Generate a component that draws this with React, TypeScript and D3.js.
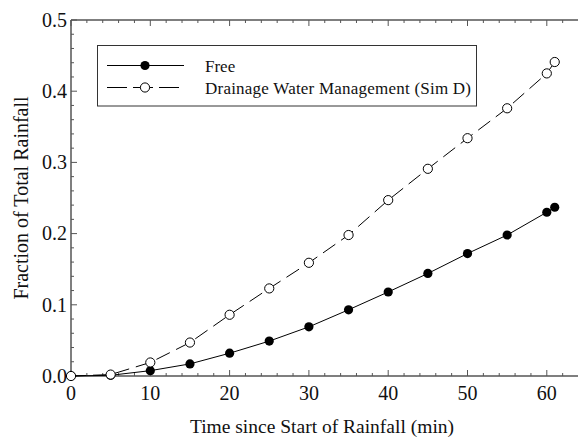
import React from "react";
import * as d3 from "d3";

// Elapsed time since rainfall began (min)
const times = [0, 5, 10, 15, 20, 25, 30, 35, 40, 45, 50, 55, 60, 61];
// Fraction of total rainfall, free drainage
const freeValues = [0, 0.001, 0.0075, 0.017, 0.032, 0.049, 0.069, 0.093, 0.118, 0.144, 0.172, 0.198, 0.23, 0.237];
// Fraction of total rainfall, drainage water management (Sim D)
const dwmValues = [0, 0.002, 0.019, 0.047, 0.086, 0.123, 0.159, 0.198, 0.247, 0.291, 0.334, 0.376, 0.425, 0.441];

const xMajorTicks = [0, 10, 20, 30, 40, 50, 60];
const yMajorTicks = [0, 0.1, 0.2, 0.3, 0.4, 0.5];
const seriesNames = ["Free", "Drainage Water Management (Sim D)"];

const W = 578;
const H = 437;
const FONT = "Liberation Serif, Times New Roman, serif";
const AXIS = "#555";
const txt = { fontFamily: FONT };

export default function App() {
  const x = d3.scaleLinear().domain([0, 65]).range([71, 71 + 65 * 7.93]);
  const y = d3.scaleLinear().domain([0, 0.5]).range([376, 20]);

  const xMinor = d3.range(0, 66, 2).filter((v) => v % 10 !== 0);
  const yMinor = d3.range(0, 0.5001, 0.02).filter((v) => Math.abs(v * 10 - Math.round(v * 10)) > 1e-6);

  const line = d3
    .line<number>()
    .x((_, i) => x(times[i]))
    .y((v) => y(v));

  const x0 = x(0);
  const xEnd = W;
  const yTop = y(0.5);
  const yBot = y(0);

  return (
    <svg
      width={W}
      height={H}
      style={{ position: "absolute", left: 0, top: 0, background: "#fff" }}
    >
      {/* axis frame: left, bottom and top */}
      <g stroke={AXIS} strokeWidth={1.5} fill="none">
        <line x1={x0} x2={x0} y1={yTop} y2={yBot} />
        <line x1={x0} x2={xEnd} y1={yBot} y2={yBot} />
        <line x1={x0} x2={xEnd} y1={yTop} y2={yTop} />
      </g>
      {/* ticks, pointing into the plot */}
      <g stroke={AXIS} strokeWidth={1}>
        {xMajorTicks.map((t) => (
          <g key={"xm" + t}>
            <line x1={x(t)} x2={x(t)} y1={yBot} y2={yBot - 6} />
            <line x1={x(t)} x2={x(t)} y1={yTop} y2={yTop + 6} />
          </g>
        ))}
        {xMinor.map((t) => (
          <g key={"xn" + t}>
            <line x1={x(t)} x2={x(t)} y1={yBot} y2={yBot - 3} />
            <line x1={x(t)} x2={x(t)} y1={yTop} y2={yTop + 3} />
          </g>
        ))}
        {yMajorTicks.map((t) => (
          <line key={"ym" + t} x1={x0} x2={x0 + 6} y1={y(t)} y2={y(t)} />
        ))}
        {yMinor.map((t) => (
          <line key={"yn" + t} x1={x0} x2={x0 + 3} y1={y(t)} y2={y(t)} />
        ))}
      </g>
      {/* tick labels */}
      <g fontSize={20} fill="#111">
        {xMajorTicks.map((t) => (
          <text key={"xl" + t} x={x(t)} y={400} textAnchor="middle" style={txt}>
            {t}
          </text>
        ))}
        {yMajorTicks.map((t) => (
          <text key={"yl" + t} x={67} y={y(t) + 6.8} textAnchor="end" style={txt}>
            {t.toFixed(1)}
          </text>
        ))}
      </g>
      {/* axis titles */}
      <text x={322} y={433} textAnchor="middle" fontSize={19.5} fill="#111" style={txt}>
        Time since Start of Rainfall (min)
      </text>
      <text
        transform={`translate(28, 198) rotate(-90)`}
        textAnchor="middle"
        fontSize={20}
        fill="#111"
        style={txt}
      >
        Fraction of Total Rainfall
      </text>

      {/* series lines */}
      <path d={line(freeValues) ?? ""} fill="none" stroke="#000" strokeWidth={1} />
      <path d={line(dwmValues) ?? ""} fill="none" stroke="#000" strokeWidth={1} strokeDasharray="15,7" />

      {/* markers */}
      {freeValues.map((v, i) => (
        <circle key={"f" + i} cx={x(times[i])} cy={y(v)} r={4.6} fill="#000" />
      ))}
      {dwmValues.map((v, i) => (
        <circle key={"d" + i} cx={x(times[i])} cy={y(v)} r={4.6} fill="#fff" stroke="#000" strokeWidth={1} />
      ))}

      {/* legend */}
      <g>
        <rect x={97.5} y={45.5} width={379} height={60.5} fill="#fff" stroke="#333" strokeWidth={1} />
        <line x1={107} x2={184} y1={65.5} y2={65.5} stroke="#000" strokeWidth={1} />
        <circle cx={145} cy={65.5} r={4.6} fill="#000" />
        <text x={205} y={71.5} fontSize={17} fill="#111" style={txt}>
          {seriesNames[0]}
        </text>
        <line x1={107} x2={184} y1={87.5} y2={87.5} stroke="#000" strokeWidth={1} strokeDasharray="20,6" />
        <circle cx={145} cy={87.5} r={4.6} fill="#fff" stroke="#000" strokeWidth={1} />
        <text x={205} y={93.5} fontSize={17} fill="#111" style={txt} textLength={266} lengthAdjust="spacing">
          {seriesNames[1]}
        </text>
      </g>
    </svg>
  );
}
